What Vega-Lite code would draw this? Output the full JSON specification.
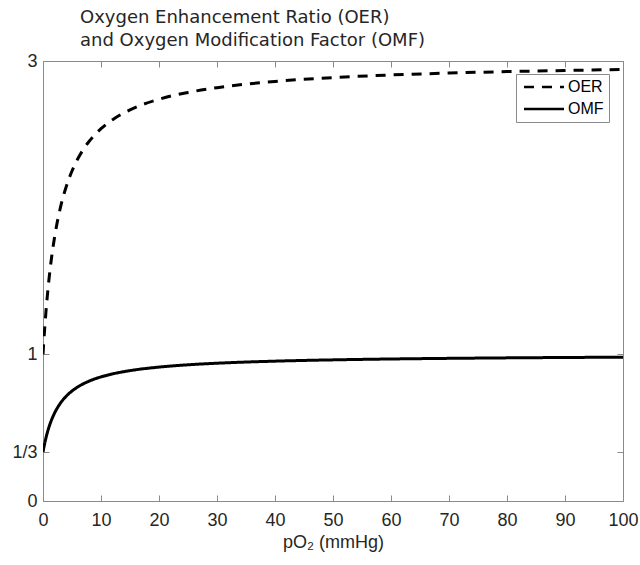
{
  "$schema": "https://vega.github.io/schema/vega-lite/v6.json",
  "width": 580,
  "height": 440,
  "autosize": {"type": "none"},
  "padding": {"left": 43, "top": 61, "right": 17, "bottom": 64},
  "background": "white",
  "config": {
    "view": {"stroke": null},
    "font": "Liberation Sans",
    "axis": {"grid": false, "domainColor": "#8a8a8a", "tickColor": "#8a8a8a", "labelColor": "#262626", "titleColor": "#262626", "labelFontSize": 18, "titleFontSize": 18, "titleFontWeight": "normal", "tickSize": -6, "labelFlush": false}
  },
  "title": {
    "text": ["Oxygen Enhancement Ratio (OER)", "and Oxygen Modification Factor (OMF)"],
    "font": "DejaVu Sans",
    "fontSize": 18,
    "fontWeight": "normal",
    "color": "#262626",
    "anchor": "start",
    "dx": 68,
    "offset": 2,
    "lineHeight": 23
  },
  "data": {"values": [
    {"p": 0, "series": "OER", "v": 1.0},
    {"p": 0.1, "series": "OER", "v": 1.0645},
    {"p": 0.25, "series": "OER", "v": 1.1538},
    {"p": 0.5, "series": "OER", "v": 1.2857},
    {"p": 0.75, "series": "OER", "v": 1.4},
    {"p": 1, "series": "OER", "v": 1.5},
    {"p": 1.5, "series": "OER", "v": 1.6667},
    {"p": 2, "series": "OER", "v": 1.8},
    {"p": 3, "series": "OER", "v": 2.0},
    {"p": 4, "series": "OER", "v": 2.1429},
    {"p": 5, "series": "OER", "v": 2.25},
    {"p": 6, "series": "OER", "v": 2.3333},
    {"p": 7, "series": "OER", "v": 2.4},
    {"p": 8, "series": "OER", "v": 2.4545},
    {"p": 10, "series": "OER", "v": 2.5385},
    {"p": 12, "series": "OER", "v": 2.6},
    {"p": 15, "series": "OER", "v": 2.6667},
    {"p": 20, "series": "OER", "v": 2.7391},
    {"p": 25, "series": "OER", "v": 2.7857},
    {"p": 30, "series": "OER", "v": 2.8182},
    {"p": 40, "series": "OER", "v": 2.8605},
    {"p": 50, "series": "OER", "v": 2.8868},
    {"p": 60, "series": "OER", "v": 2.9048},
    {"p": 70, "series": "OER", "v": 2.9178},
    {"p": 80, "series": "OER", "v": 2.9277},
    {"p": 90, "series": "OER", "v": 2.9355},
    {"p": 100, "series": "OER", "v": 2.9417},
    {"p": 0, "series": "OMF", "v": 0.3333},
    {"p": 0.1, "series": "OMF", "v": 0.3548},
    {"p": 0.25, "series": "OMF", "v": 0.3846},
    {"p": 0.5, "series": "OMF", "v": 0.4286},
    {"p": 0.75, "series": "OMF", "v": 0.4667},
    {"p": 1, "series": "OMF", "v": 0.5},
    {"p": 1.5, "series": "OMF", "v": 0.5556},
    {"p": 2, "series": "OMF", "v": 0.6},
    {"p": 3, "series": "OMF", "v": 0.6667},
    {"p": 4, "series": "OMF", "v": 0.7143},
    {"p": 5, "series": "OMF", "v": 0.75},
    {"p": 6, "series": "OMF", "v": 0.7778},
    {"p": 7, "series": "OMF", "v": 0.8},
    {"p": 8, "series": "OMF", "v": 0.8182},
    {"p": 10, "series": "OMF", "v": 0.8462},
    {"p": 12, "series": "OMF", "v": 0.8667},
    {"p": 15, "series": "OMF", "v": 0.8889},
    {"p": 20, "series": "OMF", "v": 0.913},
    {"p": 25, "series": "OMF", "v": 0.9286},
    {"p": 30, "series": "OMF", "v": 0.9394},
    {"p": 40, "series": "OMF", "v": 0.9535},
    {"p": 50, "series": "OMF", "v": 0.9623},
    {"p": 60, "series": "OMF", "v": 0.9683},
    {"p": 70, "series": "OMF", "v": 0.9726},
    {"p": 80, "series": "OMF", "v": 0.9759},
    {"p": 90, "series": "OMF", "v": 0.9785},
    {"p": 100, "series": "OMF", "v": 0.9806}
  ]},
  "layer": [
    {
      "mark": {"type": "line", "color": "black", "strokeWidth": 3, "interpolate": "monotone", "clip": true},
      "encoding": {
        "x": {"field": "p", "type": "quantitative", "scale": {"domain": [0, 100], "nice": false}, "axis": {"orient": "bottom", "values": [0,10,20,30,40,50,60,70,80,90,100], "title": "pO₂ (mmHg)", "titlePadding": 4, "labelPadding": 16}},
        "y": {"field": "v", "type": "quantitative", "scale": {"domain": [0, 3], "nice": false}, "axis": {"orient": "left", "values": [0, 0.3333333, 1, 3], "title": null, "labelExpr": "datum.value == 0 ? '0' : (datum.value < 0.5 ? '1/3' : (datum.value < 2 ? '1' : '3'))", "labelPadding": 12}},
        "strokeDash": {"field": "series", "type": "nominal", "scale": {"domain": ["OER", "OMF"], "range": [[10, 8], [1, 0]]},
          "legend": {"title": null, "orient": "none", "legendX": 473, "legendY": 13, "fillColor": "white", "strokeColor": "#8a8a8a", "padding": 5, "symbolType": "M-1,0H7", "symbolStrokeColor": "black", "symbolFillColor": "transparent", "symbolStrokeWidth": 2.5, "symbolSize": 100, "labelFontSize": 16, "labelColor": "#000000", "labelOffset": 31, "rowPadding": 6}}
      }
    },
    {
      "mark": {"type": "line", "opacity": 0},
      "encoding": {
        "x": {"field": "p", "type": "quantitative", "scale": {"domain": [0, 100], "nice": false}, "axis": {"orient": "top", "values": [0,10,20,30,40,50,60,70,80,90,100], "labels": false, "title": null}},
        "y": {"field": "v", "type": "quantitative", "scale": {"domain": [0, 3], "nice": false}, "axis": {"orient": "right", "values": [0, 0.3333333, 1, 3], "labels": false, "title": null}},
        "detail": {"field": "series"}
      }
    }
  ],
  "resolve": {"scale": {"x": "independent", "y": "independent"}}
}
